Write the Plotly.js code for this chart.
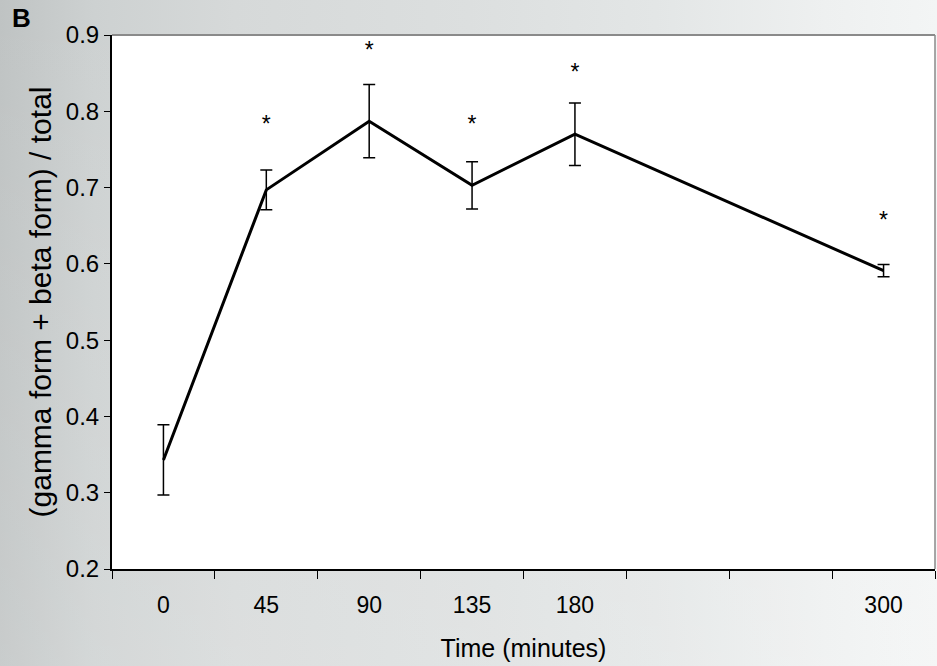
<!DOCTYPE html>
<html>
<head>
<meta charset="utf-8">
<script src="https://cdn.plot.ly/plotly-3.0.1.min.js"></script>
<style>
  html, body { margin: 0; padding: 0; }
  body {
    width: 937px; height: 666px; overflow: hidden;
    background:
      linear-gradient(180deg, rgba(255,255,255,0) 0%, rgba(255,255,255,0.15) 100%),
      linear-gradient(90deg, #bfc3c3 0%, #cdd1d1 10%, #d6d9d9 25%, #dcdfdf 50%, #e3e6e6 70%, #eef0f0 88%, #f3f5f5 100%);
  }
  #chart { width: 937px; height: 666px; }
</style>
</head>
<body>
<div id="chart"></div>
<script>
// Category slots on the x axis (two unlabeled slots between 180 and 300)
const timeSlots = ['0', '45', '90', '135', '180', '', '', '300'];
// Measured time points (minutes)
const times = ['0', '45', '90', '135', '180', '300'];
// (gamma form + beta form) / total
const ratio = [0.343, 0.697, 0.787, 0.703, 0.770, 0.591];
// Error bar half-lengths
const errVals = [0.046, 0.026, 0.048, 0.031, 0.041, 0.008];
// Significance markers
const starTimes = ['45', '90', '135', '180', '300'];
const starY = [0.781, 0.878, 0.781, 0.849, 0.655];
const starText = ['*', '*', '*', '*', '*'];

const slotIndex = t => timeSlots.indexOf(t);
const xPos = times.map(slotIndex);
const starX = starTimes.map(slotIndex);
const labelVals = timeSlots.map((t, i) => i).filter(i => timeSlots[i] !== '');
const labelText = labelVals.map(i => timeSlots[i]);

const FONT = 'Liberation Sans, Arial, sans-serif';

const traces = [
  {
    x: xPos, y: ratio, type: 'scatter', mode: 'lines',
    line: { color: '#000', width: 3 },
    error_y: { type: 'data', array: errVals, visible: true, color: '#000', thickness: 1.5, width: 6 },
    hoverinfo: 'skip', showlegend: false
  },
  {
    x: starX, y: starY, type: 'scatter', mode: 'text', text: starText,
    textposition: 'middle center',
    textfont: { family: FONT, size: 23, color: '#000' },
    hoverinfo: 'skip', showlegend: false
  }
];

const layout = {
  width: 937, height: 666,
  margin: { l: 112, r: 2, t: 35, b: 97 },
  paper_bgcolor: 'rgba(0,0,0,0)',
  plot_bgcolor: '#ffffff',
  font: { family: FONT, color: '#000' },
  showlegend: false,
  xaxis: {
    range: [-0.5, timeSlots.length - 0.5],
    tickmode: 'array', tickvals: labelVals, ticktext: labelText,
    ticks: '', ticklabelstandoff: 14,
    tickfont: { family: FONT, size: 23, color: '#000' },
    minor: { tickmode: 'linear', tick0: -0.5, dtick: 1, ticks: 'outside', ticklen: 8, tickwidth: 1, tickcolor: '#000', showgrid: false },
    showline: true, linecolor: '#000', linewidth: 2,
    showgrid: false, zeroline: false,
    title: { text: 'Time (minutes)', font: { family: FONT, size: 25, color: '#000' }, standoff: 23 }
  },
  yaxis: {
    range: [0.2, 0.9], dtick: 0.1, tick0: 0.2, tickformat: '.1f',
    ticks: 'outside', ticklen: 6, tickwidth: 1, tickcolor: '#000',
    tickfont: { family: FONT, size: 24, color: '#000' },
    showline: true, linecolor: '#000', linewidth: 2,
    showgrid: false, zeroline: false,
    title: { text: '(gamma form + beta form) / total', font: { family: FONT, size: 30, color: '#000' }, standoff: 5 }
  },
  shapes: [
    { type: 'line', xref: 'paper', yref: 'paper', x0: 0, x1: 1, y0: 1, y1: 1, line: { color: '#8a8a8a', width: 2 } },
    { type: 'line', xref: 'paper', yref: 'paper', x0: 1, x1: 1, y0: 0, y1: 1, line: { color: '#8a8a8a', width: 1.5 } }
  ],
  annotations: [
    { text: '<b>B</b>', xref: 'paper', yref: 'paper', x: -0.1094, y: 1.032, xanchor: 'center', yanchor: 'middle',
      showarrow: false, font: { family: FONT, size: 26, color: '#000' } }
  ]
};

Plotly.newPlot('chart', traces, layout, { displayModeBar: false, staticPlot: true });
</script>
</body>
</html>
